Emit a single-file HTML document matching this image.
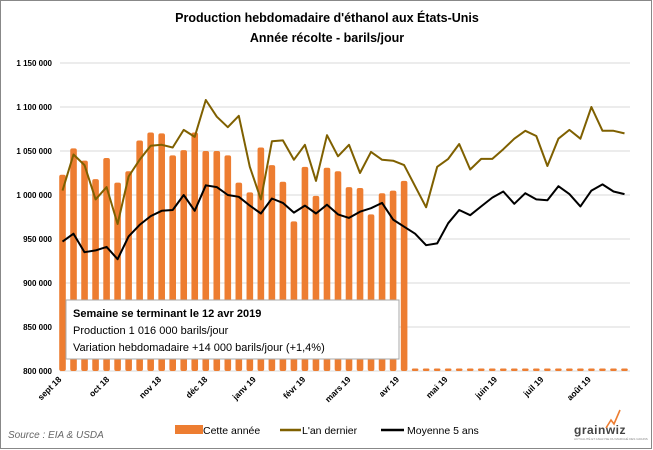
<!DOCTYPE html>
<html><head><meta charset="utf-8">
<style>
body{margin:0;background:#fff;}
svg{display:block;font-family:"Liberation Sans",sans-serif;}
</style></head>
<body>
<svg id="chart" width="653" height="450" viewBox="0 0 653 450">
<rect x="0.5" y="0.5" width="651" height="448" fill="#fff" stroke="#888"/>
<text x="327" y="22" text-anchor="middle" font-size="12.5" font-weight="bold">Production hebdomadaire d'éthanol aux États-Unis</text>
<text x="327" y="42" text-anchor="middle" font-size="12.5" font-weight="bold">Année récolte - barils/jour</text>
<g id="grid"></g>
<g id="bars"></g>
<g id="lines"></g>
<g id="xlabels"></g>
<g>
<rect x="66" y="300" width="333" height="59" fill="#fff" stroke="#aaa"/>
<text x="73" y="317" font-size="11" font-weight="bold">Semaine se terminant le 12 avr 2019</text>
<text x="73" y="334" font-size="11">Production 1 016 000 barils/jour</text>
<text x="73" y="351" font-size="11">Variation hebdomadaire  +14 000 barils/jour  (+1,4%)</text>
</g>
<g>
<rect x="175" y="425" width="28" height="9" fill="#ED7D31"/>
<text x="203" y="434" font-size="10.5">Cette année</text>
<line x1="280" y1="430" x2="301" y2="430" stroke="#7F6000" stroke-width="2.5"/>
<text x="302" y="434" font-size="10.5">L'an dernier</text>
<line x1="381" y1="430" x2="404" y2="430" stroke="#000" stroke-width="2.5"/>
<text x="407" y="434" font-size="10.5">Moyenne 5 ans</text>
</g>
<text x="8" y="438" font-size="10" font-style="italic" fill="#666">Source : EIA &amp; USDA</text>
<g>
<text x="574" y="434" font-size="12" font-weight="bold" fill="#444" letter-spacing="0.5">grainwiz</text>
<polyline points="606,428 611,420 614,424 620,410" fill="none" stroke="#ED7D31" stroke-width="1.6"/>
<text x="574" y="440" font-size="3" fill="#888">ACTUALITÉ ET ANALYSE DU MARCHÉ DES GRAINS</text>
</g>
</svg>
<script>
const yTicks=[800000,850000,900000,950000,1000000,1050000,1100000,1150000];
const monthLabels=["sept 18","oct 18","nov 18","déc 18","janv 19","févr 19","mars 19","avr 19","mai 19","juin 19","juil 19","août 19"];
const monthWeek=[-0.05,4.3,9.0,13.2,17.6,22.1,26.2,30.6,35.0,39.5,43.7,48.0];
const thisYear=[1023,1053,1039,1018,1042,1014,1027,1062,1071,1070,1045,1051,1071,1050,1050,1045,1014,1003,1054,1034,1015,970,1032,999,1031,1027,1009,1008,978,1002,1005,1016];
const lastYear=[1005,1046,1034,995,1009,967,1021,1040,1056,1057,1054,1074,1066,1108,1089,1077,1090,1032,995,1061,1062,1040,1057,1016,1068,1044,1057,1025,1049,1040,1039,1034,1010,986,1032,1041,1058,1029,1041,1041,1052,1064,1073,1067,1033,1064,1074,1064,1100,1073,1073,1070];
const fiveYear=[947,956,935,937,941,927,953,966,976,982,983,1000,982,1011,1009,1000,998,988,979,996,991,980,988,979,989,978,974,981,985,991,972,964,956,943,945,968,983,977,987,997,1004,990,1002,995,994,1010,1001,987,1005,1012,1004,1001];
const NW=52, X0=57, X1=630, Y0=371, Y1=63, VMIN=800000, VMAX=1150000;
const band=(X1-X0)/NW;
const xs=i=>X0+(i+0.5)*band;
const ys=v=>Y0-(v-VMIN)/(VMAX-VMIN)*(Y0-Y1);
const NS="http://www.w3.org/2000/svg";
function mk(tag,attrs,parent){const e=document.createElementNS(NS,tag);for(const k in attrs)e.setAttribute(k,attrs[k]);parent.appendChild(e);return e;}
const grid=document.getElementById('grid');
yTicks.forEach(t=>{
 const l=mk('line',{x1:60,x2:X1,y1:ys(t),y2:ys(t),stroke:'#d9d9d9','stroke-width':1},grid);
 
 
 const tx=mk('text',{x:52,y:ys(t)+3,'text-anchor':'end','font-size':8,'font-weight':'bold'},grid);
 tx.textContent=String(t).replace(/\B(?=(\d{3})+(?!\d))/g,' ');
 
 
});
const bars=document.getElementById('bars');
for(let i=0;i<NW;i++){
 if(i<thisYear.length){
  const v=thisYear[i]*1000, top=ys(v);
  const b=mk('rect',{x:xs(i)-3.3,y:top,width:6.6,height:Y0-top,rx:2,fill:'#ED7D31'},bars);
  
  
 } else {
  const d=mk('rect',{x:xs(i)-3.3,y:Y0-2.5,width:6.6,height:2.5,rx:1.2,fill:'#ED7D31'},bars);
  
  
 }
}
const lines=document.getElementById('lines');
const pts=a=>a.map((v,i)=>xs(i).toFixed(1)+','+ys(v*1000).toFixed(1)).join(' ');
const l1=mk('polyline',{points:pts(lastYear),fill:'none',stroke:'#7F6000','stroke-width':2,'stroke-linejoin':'round'},lines);


const l2=mk('polyline',{points:pts(fiveYear),fill:'none',stroke:'#000','stroke-width':2,'stroke-linejoin':'round'},lines);


const xl=document.getElementById('xlabels');
monthLabels.forEach((m,k)=>{
 const x=xs(monthWeek[k]), y=380;
 const t=mk('text',{x:x,y:y,'text-anchor':'end','font-size':8.5,'font-weight':'bold',transform:`rotate(-45 ${x} ${y})`},xl);
 t.textContent=m;
 
 
});
</script>
</body></html>
